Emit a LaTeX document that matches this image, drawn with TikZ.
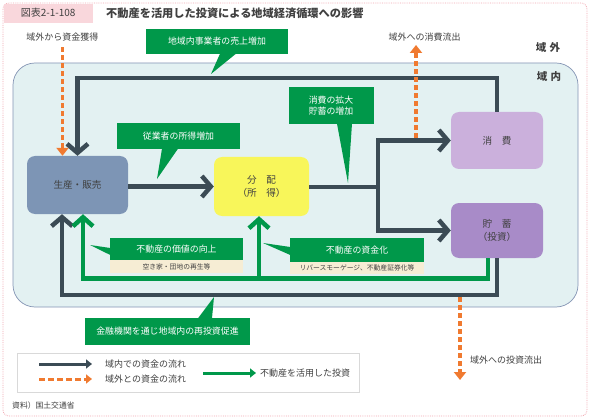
\documentclass[tikz,border=0pt]{standalone}
\usepackage{fontspec}
\setmainfont{Noto Sans CJK JP}
\usetikzlibrary{arrows.meta,calc}
\definecolor{dk}{HTML}{3B4B55}
\definecolor{gr}{HTML}{00984A}
\definecolor{orng}{HTML}{F07A30}
\definecolor{txt}{HTML}{404040}
\definecolor{nblue}{HTML}{7D95B5}
\definecolor{nyel}{HTML}{F8F65A}
\definecolor{nlpur}{HTML}{CBB0DC}
\definecolor{npur}{HTML}{A88BC8}
\definecolor{infill}{HTML}{E3F1F2}
\definecolor{inline}{HTML}{8494B4}
\definecolor{pinkb}{HTML}{F2A7B0}
\definecolor{pinkf}{HTML}{F9D7DC}
\definecolor{beige}{HTML}{F6EDD4}
\begin{document}
\begin{tikzpicture}[x=1pt,y=-1pt,
  lbl/.style={font=\fontsize{9}{10}\selectfont, text=txt, inner sep=0pt},
  nodebox/.style={rounded corners=8pt, inner sep=0pt, font=\fontsize{9.6}{12.5}\selectfont, text=txt, align=center},
  callout/.style={fill=gr, text=white, inner sep=0pt, font=\fontsize{8.9}{11.5}\selectfont, align=center},
  sublbl/.style={fill=beige, text=txt, inner sep=0pt, font=\fontsize{6.8}{8}\selectfont},
  darkarrow/.style={draw=dk, line width=4.5pt, -{Straight Barb[length=9pt,width=21pt]}},
  greenarrow/.style={draw=gr, line width=4.5pt, -{Straight Barb[length=9pt,width=20pt]}},
  orarrow/.style={draw=orng, line width=3.5pt, dash pattern=on 5pt off 3pt, -{Triangle[length=8pt,width=12pt]}},
]
\useasboundingbox (0,0) rectangle (590,420);
% outer frame
\draw[pinkb, densely dotted, line width=0.8pt, fill=white, rounded corners=6pt] (3,3) rectangle (587,416);
\node[fill=pinkf, anchor=north west, minimum width=89pt, minimum height=19pt, inner sep=0pt,
  font=\fontsize{10}{12}\selectfont, text=txt] (tab) at (3.4,3.4) {図表2-1-108};
\node[anchor=west, inner sep=0pt, font=\bfseries\fontsize{11.2}{13}\selectfont, text=txt] (title) at (106,13) {不動産を活用した投資による地域経済循環への影響};
% inner region
\draw[draw=inline, fill=infill, line width=0.7pt, rounded corners=22pt] (13,63) rectangle (578,307);
\node[font=\bfseries\fontsize{10.5}{12}\selectfont, text=txt, inner sep=0pt] (gaiLbl) at (548,48) {域\,\,外};
\node[font=\bfseries\fontsize{10.5}{12}\selectfont, text=txt, inner sep=0pt] (naiLbl) at (549,77) {域\,\,内};

% main nodes
\node[nodebox, fill=nblue, minimum width=101pt, minimum height=58pt] (prod) at (77.5,185) {生産・販売};
\node[nodebox, fill=nyel, minimum width=95pt, minimum height=59pt] (dist) at (261.5,186.5) {分　配\\（所　得）};
\node[nodebox, fill=nlpur, minimum width=92pt, minimum height=57pt] (cons) at (497,140.5) {消　費};
\node[nodebox, fill=npur, minimum width=92pt, minimum height=55pt] (sav) at (497,230.5) {貯　蓄\\（投資）};

% coordinates for routes
\coordinate (topy) at (0,78);
\coordinate (boty) at (0,295);
\coordinate (greeny) at (0,278.5);
\coordinate (split) at (378,187);

% dark flows
\draw[darkarrow] (cons.north) -- (cons.north |- topy) -| (prod.north);
\draw[darkarrow] (prod.east |- dist.west) -- (dist.west);
\draw[darkarrow] (dist.east |- split) -| ($(split |- cons.west)$) -- (cons.west);
\draw[darkarrow] (dist.east |- split) -| ($(split |- sav.west)$) -- (sav.west);
\draw[darkarrow] (sav.south) -- (sav.south |- boty) -| ($(prod.south)+(-15.5,0)$);

% green flows
\draw[greenarrow] ($(sav.south)+(-9,0)$) -- ($(sav.south |- greeny)+(-9,0)$) -| ($(prod.south)+(5.5,0)$);
\draw[greenarrow] ($(dist.south |- greeny)+(-2.5,0)$) -- ($(dist.south)+(-2.5,0)$);

% orange flows
\node[lbl] (inLbl) at (62.5,37) {域外から資金獲得};
\draw[orarrow] (inLbl.south) ++(0,6) -- (inLbl.south |- prod.north);
\node[lbl] (outC) at (424.5,37) {域外への消費流出};
\coordinate (oc1) at (416,138);
\coordinate (oc2) at (416,45);
\draw[orarrow] (oc1) -- (oc2);
\node[lbl, anchor=west] (outI) at (470,360) {域外への投資流出};
\coordinate (oi1) at (460,297);
\coordinate (oi2) at (460,380);
\draw[orarrow] (oi1) -- (oi2);

% callouts
\node[callout, minimum width=142pt, minimum height=25pt] (c1) at (217,41.5) {地域内事業者の売上増加};
\coordinate (t1) at (211,74);
\fill[gr] ($(c1.south)+(3,-0.5)$) -- (t1) -- ($(c1.south)+(19,-0.5)$) -- cycle;

\node[callout, minimum width=123pt, minimum height=26pt] (c2) at (178.5,136) {従業者の所得増加};
\coordinate (t2) at (157,179);
\fill[gr] ($(c2.south)+(-16.5,-0.5)$) -- (t2) -- ($(c2.south)+(-0.5,-0.5)$) -- cycle;

\node[callout, minimum width=85pt, minimum height=37pt] (c3) at (331,105.5) {消費の拡大\\貯蓄の増加};
\coordinate (t3) at (348,183);
\fill[gr] ($(c3.south)+(6,-0.5)$) -- (t3) -- ($(c3.south)+(21,-0.5)$) -- cycle;

\node[callout, minimum width=133pt, minimum height=22pt] (c4) at (176.5,249) {不動産の価値の向上};
\node[sublbl, minimum width=133pt, minimum height=13pt, anchor=north] (s4) at (c4.south) {空き家・団地の再生等};
\coordinate (t4) at (90,245);
\fill[gr] ($(c4.west)+(0.5,-1)$) -- (t4) -- ($(c4.west)+(0.5,6)$) -- cycle;

\node[callout, minimum width=134pt, minimum height=24pt] (c5) at (357,250) {不動産の資金化};
\node[sublbl, minimum width=134pt, minimum height=12pt, anchor=north] (s5) at (c5.south) {リバースモーゲージ、不動産証券化等};
\coordinate (t5) at (263,243);
\fill[gr] ($(c5.west)+(0.5,-3)$) -- (t5) -- ($(c5.west)+(0.5,5)$) -- cycle;

\node[callout, minimum width=165pt, minimum height=27pt] (c6) at (167.5,331.5) {金融機関を通じ地域内の再投資促進};
\coordinate (t6) at (214,297);
\fill[gr] ($(c6.north)+(30.5,0.5)$) -- (t6) -- ($(c6.north)+(44.5,0.5)$) -- cycle;

% legend
\node[draw=black!15, fill=white, minimum width=342pt, minimum height=39pt, inner sep=0pt] (leg) at (188,372.5) {};
\coordinate (l1a) at (39,364); \coordinate (l1b) at (92,364);
\coordinate (l2a) at (39,379); \coordinate (l2b) at (92,379);
\coordinate (l3a) at (203,373); \coordinate (l3b) at (256,373);
\draw[draw=dk, line width=3pt, -{Triangle[length=6pt,width=9pt]}] (l1a) -- (l1b);
\draw[draw=orng, line width=3pt, dash pattern=on 6pt off 3pt, -{Triangle[length=6pt,width=9pt]}] (l2a) -- (l2b);
\draw[draw=gr, line width=3pt, -{Triangle[length=6pt,width=9pt]}] (l3a) -- (l3b);
\node[lbl, anchor=west] (lt1) at (105,364) {域内での資金の流れ};
\node[lbl, anchor=west] (lt2) at (105,379) {域外との資金の流れ};
\node[lbl, anchor=west] (lt3) at (260,373) {不動産を活用した投資};
\node[anchor=west, inner sep=0pt, font=\fontsize{7.8}{9}\selectfont, text=txt] (src) at (12,406) {資料）国土交通省};
\end{tikzpicture}
\end{document}
